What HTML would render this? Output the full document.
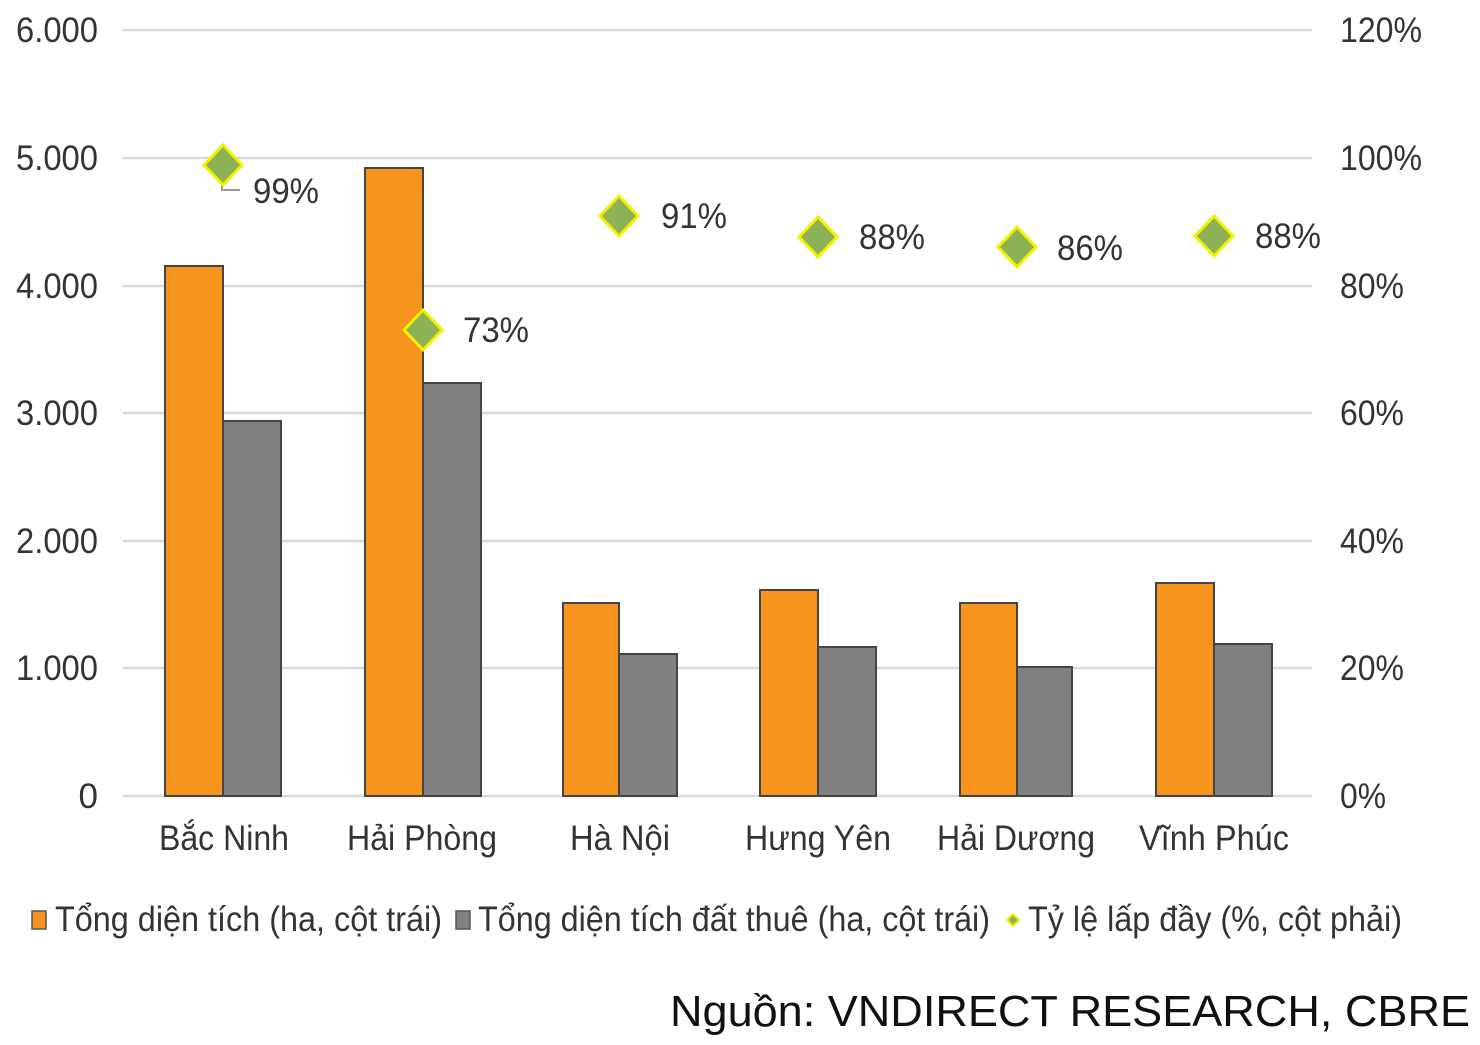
<!DOCTYPE html>
<html><head><meta charset="utf-8"><style>
html,body{margin:0;padding:0;background:#fff;}
svg{display:block;}
text{font-family:"Liberation Sans","Noto Sans CJK SC",sans-serif;fill:#333;}
</style></head><body>
<svg width="1480" height="1045" viewBox="0 0 1480 1045" xmlns="http://www.w3.org/2000/svg">
<g stroke="#d9d9d9" stroke-width="2.5">
<line x1="123" y1="30" x2="1312" y2="30"/>
<line x1="123" y1="158" x2="1312" y2="158"/>
<line x1="123" y1="286" x2="1312" y2="286"/>
<line x1="123" y1="413" x2="1312" y2="413"/>
<line x1="123" y1="541" x2="1312" y2="541"/>
<line x1="123" y1="668" x2="1312" y2="668"/>
<line x1="123" y1="796" x2="1312" y2="796"/>
</g>
<g font-size="35" text-anchor="end">
<text x="98" y="42" textLength="82" lengthAdjust="spacingAndGlyphs">6.000</text>
<text x="98" y="170" textLength="82" lengthAdjust="spacingAndGlyphs">5.000</text>
<text x="98" y="298" textLength="82" lengthAdjust="spacingAndGlyphs">4.000</text>
<text x="98" y="425" textLength="82" lengthAdjust="spacingAndGlyphs">3.000</text>
<text x="98" y="553" textLength="82" lengthAdjust="spacingAndGlyphs">2.000</text>
<text x="98" y="680" textLength="82" lengthAdjust="spacingAndGlyphs">1.000</text>
<text x="98" y="808">0</text>
</g>
<g font-size="35">
<text x="1340" y="42" textLength="82" lengthAdjust="spacingAndGlyphs">120%</text>
<text x="1340" y="170" textLength="82" lengthAdjust="spacingAndGlyphs">100%</text>
<text x="1340" y="298" textLength="64" lengthAdjust="spacingAndGlyphs">80%</text>
<text x="1340" y="425" textLength="64" lengthAdjust="spacingAndGlyphs">60%</text>
<text x="1340" y="553" textLength="64" lengthAdjust="spacingAndGlyphs">40%</text>
<text x="1340" y="680" textLength="64" lengthAdjust="spacingAndGlyphs">20%</text>
<text x="1340" y="808" textLength="46" lengthAdjust="spacingAndGlyphs">0%</text>
</g>
<g stroke="#444" stroke-width="2">
<rect x="165" y="266" width="58" height="530" fill="#F7941D"/>
<rect x="223" y="421" width="58" height="375" fill="#808080"/>
<rect x="365" y="168" width="58" height="628" fill="#F7941D"/>
<rect x="423" y="383" width="58" height="413" fill="#808080"/>
<rect x="563" y="603" width="56" height="193" fill="#F7941D"/>
<rect x="619" y="654" width="58" height="142" fill="#808080"/>
<rect x="760" y="590" width="58" height="206" fill="#F7941D"/>
<rect x="818" y="647" width="58" height="149" fill="#808080"/>
<rect x="960" y="603" width="57" height="193" fill="#F7941D"/>
<rect x="1017" y="667" width="55" height="129" fill="#808080"/>
<rect x="1156" y="583" width="58" height="213" fill="#F7941D"/>
<rect x="1214" y="644" width="58" height="152" fill="#808080"/>
</g>
<polyline points="222,175 222,190 240,190" fill="none" stroke="#999" stroke-width="2"/>
<g fill="#8DB255" stroke="#f2f200" stroke-width="3">
<polygon points="223,145 242,165 223,185 204,165"/>
<polygon points="423,310 442,330 423,350 404,330"/>
<polygon points="619,196 638,216 619,236 600,216"/>
<polygon points="818,217 837,237 818,257 799,237"/>
<polygon points="1017,227 1036,247 1017,267 998,247"/>
<polygon points="1214,216 1233,236 1214,256 1195,236"/>
</g>
<g font-size="35">
<text x="253" y="203" textLength="66" lengthAdjust="spacingAndGlyphs">99%</text>
<text x="463" y="342" textLength="66" lengthAdjust="spacingAndGlyphs">73%</text>
<text x="661" y="228" textLength="66" lengthAdjust="spacingAndGlyphs">91%</text>
<text x="859" y="249" textLength="66" lengthAdjust="spacingAndGlyphs">88%</text>
<text x="1057" y="260" textLength="66" lengthAdjust="spacingAndGlyphs">86%</text>
<text x="1255" y="248" textLength="66" lengthAdjust="spacingAndGlyphs">88%</text>
</g>
<g font-size="35" text-anchor="middle">
<text x="224" y="850" textLength="130" lengthAdjust="spacingAndGlyphs">Bắc Ninh</text>
<text x="422" y="850" textLength="150" lengthAdjust="spacingAndGlyphs">Hải Phòng</text>
<text x="620" y="850" textLength="100" lengthAdjust="spacingAndGlyphs">Hà Nội</text>
<text x="818" y="850" textLength="146" lengthAdjust="spacingAndGlyphs">Hưng Yên</text>
<text x="1016" y="850" textLength="158" lengthAdjust="spacingAndGlyphs">Hải Dương</text>
<text x="1214" y="850" textLength="150" lengthAdjust="spacingAndGlyphs">Vĩnh Phúc</text>
</g>
<rect x="32" y="911" width="14" height="18" fill="#F7941D" stroke="#555" stroke-width="1.5"/>
<text x="55" y="931" font-size="35" textLength="387" lengthAdjust="spacingAndGlyphs">Tổng diện tích (ha, cột trái)</text>
<rect x="456" y="911" width="14" height="18" fill="#808080" stroke="#555" stroke-width="1.5"/>
<text x="478" y="931" font-size="35" textLength="512" lengthAdjust="spacingAndGlyphs">Tổng diện tích đất thuê (ha, cột trái)</text>
<polygon points="1013,914 1019,920 1013,926 1007,920" fill="#8DB255" stroke="#f2f200" stroke-width="2"/>
<text x="1028" y="931" font-size="35" textLength="374" lengthAdjust="spacingAndGlyphs">Tỷ lệ lấp đầy (%, cột phải)</text>
<text x="1470" y="1026" font-size="44" text-anchor="end" style="fill:#111" textLength="800" lengthAdjust="spacingAndGlyphs">Nguồn: VNDIRECT RESEARCH, CBRE</text>
</svg>
</body></html>
